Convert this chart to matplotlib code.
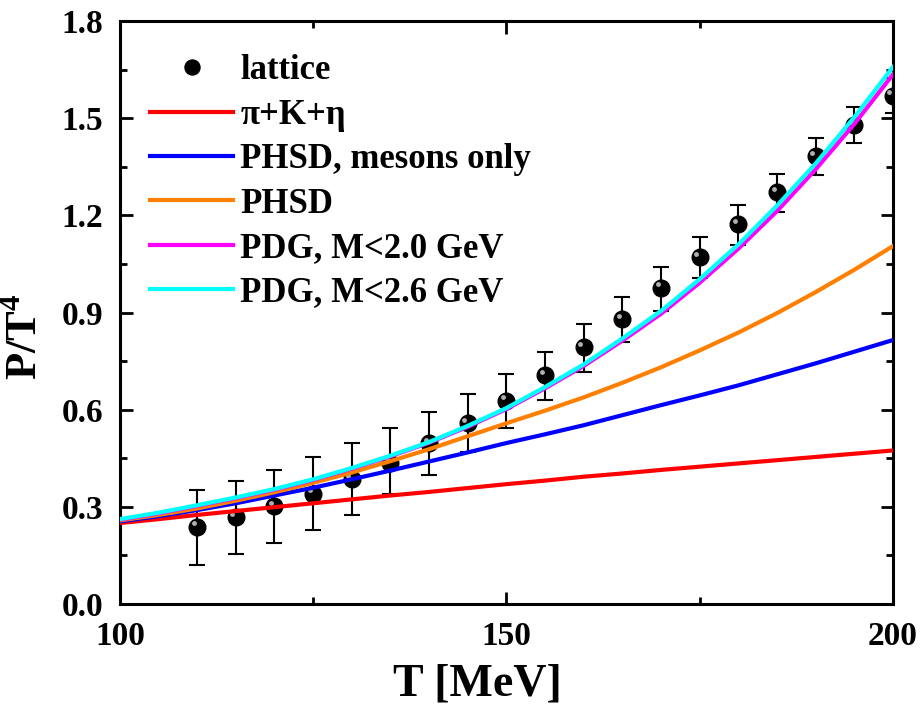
import numpy as np
import matplotlib
matplotlib.use("Agg")
import matplotlib.pyplot as plt
from matplotlib.transforms import ScaledTranslation
from matplotlib.ticker import MultipleLocator

plt.rcParams['font.family'] = ['Liberation Serif', 'DejaVu Serif']
plt.rcParams['font.weight'] = 'bold'
plt.rcParams['mathtext.fontset'] = 'custom'
plt.rcParams['mathtext.rm'] = 'Liberation Serif:bold'
plt.rcParams['mathtext.bf'] = 'Liberation Serif:bold'

# lattice points
T_lat = [110, 115, 120, 125, 130, 135, 140, 145, 150, 155,
         160, 165, 170, 175, 180, 185, 190, 195, 200]
P_lat = [0.239, 0.268, 0.302, 0.340, 0.385, 0.436, 0.496, 0.558, 0.628, 0.707,
         0.792, 0.879, 0.976, 1.071, 1.173, 1.272, 1.383, 1.479, 1.570]
err_lo = [0.119, 0.114, 0.115, 0.112, 0.110, 0.096, 0.098, 0.088, 0.086, 0.077,
          0.076, 0.070, 0.071, 0.065, 0.065, 0.062, 0.058, 0.056, 0.055]
err_hi = [0.113, 0.112, 0.112, 0.113, 0.113, 0.106, 0.096, 0.090, 0.082, 0.071,
          0.072, 0.068, 0.064, 0.062, 0.059, 0.055, 0.057, 0.056, 0.055]

# model curves
T = [100, 105, 110, 115, 120, 125, 130, 135, 140, 145, 150,
     155, 160, 165, 170, 175, 180, 185, 190, 195, 200]
pi_k_eta = [0.250, 0.262, 0.275, 0.287, 0.299, 0.311, 0.323, 0.335, 0.346, 0.358, 0.370,
            0.381, 0.393, 0.403, 0.414, 0.424, 0.434, 0.444, 0.454, 0.464, 0.474]
phsd_mesons = [0.255, 0.271, 0.290, 0.311, 0.335, 0.359, 0.385, 0.412, 0.440, 0.468, 0.497,
               0.524, 0.552, 0.583, 0.614, 0.644, 0.675, 0.709, 0.743, 0.779, 0.815]
phsd = [0.258, 0.275, 0.295, 0.319, 0.345, 0.374, 0.406, 0.441, 0.478, 0.518, 0.558,
        0.597, 0.638, 0.683, 0.731, 0.783, 0.838, 0.898, 0.963, 1.032, 1.105]
pdg_20 = [0.260, 0.280, 0.303, 0.327, 0.353, 0.383, 0.418, 0.456, 0.498, 0.547, 0.602,
          0.666, 0.735, 0.813, 0.896, 0.992, 1.097, 1.213, 1.342, 1.482, 1.635]
pdg_26 = [0.262, 0.282, 0.305, 0.329, 0.355, 0.385, 0.420, 0.458, 0.500, 0.550, 0.605,
          0.670, 0.740, 0.820, 0.905, 1.003, 1.110, 1.230, 1.360, 1.503, 1.658]

fig = plt.figure(figsize=(9.22, 7.08), dpi=100)
ax = fig.add_axes([0.130, 0.1469, 0.8385, 0.8234])

ax.errorbar(T_lat, P_lat, yerr=[err_lo, err_hi], fmt='none', ecolor='black',
            elinewidth=1.5, capsize=6, capthick=1.5, zorder=2)
lat, = ax.plot(T_lat, P_lat, 'o', color='black', ms=12, zorder=3, label='lattice')
shift = ax.transData + ScaledTranslation(-2.5 / 72, 2.5 / 72, fig.dpi_scale_trans)
ax.plot(T_lat, P_lat, 'o', color='#b0b0b0', ms=3.5, mew=0, transform=shift, zorder=3)

lw = 3
ax.plot(T, pi_k_eta, color='#ff0000', lw=lw, zorder=4, label='π+K+η')
ax.plot(T, phsd_mesons, color='#0000ff', lw=lw, zorder=4, label='PHSD, mesons only')
ax.plot(T, phsd, color='#ff8000', lw=lw, zorder=4, label='PHSD')
ax.plot(T, pdg_20, color='#ff00ff', lw=lw, zorder=4, label='PDG, M<2.0 GeV')
ax.plot(T, pdg_26, color='#00ffff', lw=lw, zorder=5, label='PDG, M<2.6 GeV')

ax.set_xlim(100, 200)
ax.set_ylim(0, 1.8)
ax.xaxis.set_major_locator(MultipleLocator(50))
ax.xaxis.set_minor_locator(MultipleLocator(25))
ax.yaxis.set_major_locator(MultipleLocator(0.3))
ax.yaxis.set_minor_locator(MultipleLocator(0.15))
ax.yaxis.set_major_formatter(matplotlib.ticker.FormatStrFormatter('%.1f'))
ax.tick_params(which='both', direction='in', top=True, right=True, width=2)
ax.tick_params(which='major', length=9, labelsize=24, pad=12)
ax.tick_params(which='minor', length=5)
for s in ax.spines.values():
    s.set_linewidth(2.2)

ax.set_xlabel('T [MeV]', fontsize=33, fontweight='bold')
ax.set_ylabel('P/T$^4$', fontsize=32, fontweight='bold')
ax.xaxis.set_label_coords(0.462, -0.102)
ax.yaxis.set_label_coords(-0.095, 0.458)

ax.legend(loc='upper left', bbox_to_anchor=(0.039, 0.943), frameon=False,
          fontsize=25, handlelength=2.4, handletextpad=0.2, labelspacing=0.33,
          borderpad=0, borderaxespad=0, numpoints=1, markerscale=0.9)

fig.savefig('out.png', dpi=100)
